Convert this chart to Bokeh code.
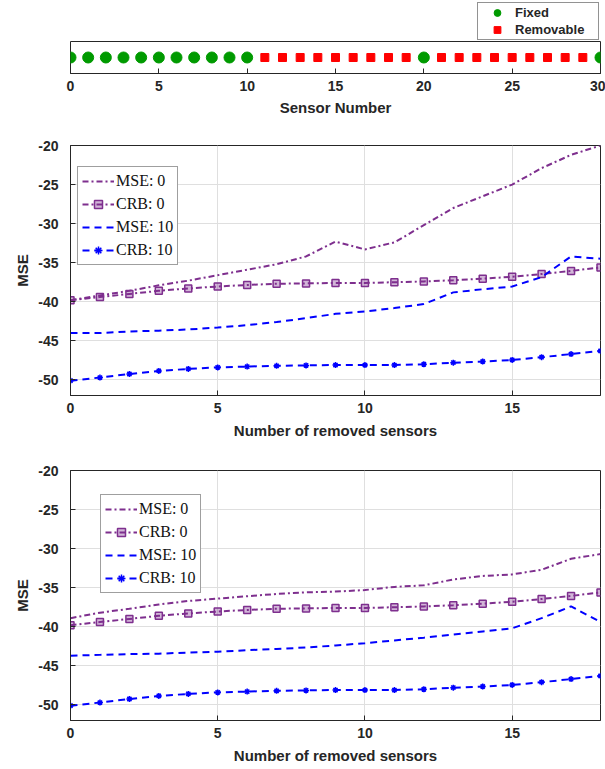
from bokeh.plotting import figure
from bokeh.models import Legend, LegendItem, FixedTicker, Range1d
from bokeh.layouts import column
from bokeh.embed import file_html
from bokeh.resources import INLINE

# ---------------- data ----------------
fixed_sensors = [0, 1, 2, 3, 4, 5, 6, 7, 8, 9, 10, 20, 30]
removable_sensors = [11, 12, 13, 14, 15, 16, 17, 18, 19,
                     21, 22, 23, 24, 25, 26, 27, 28, 29]
sensor_ticks = [0, 5, 10, 15, 20, 25, 30]
sensor_legend = ["Fixed", "Removable"]

removed = list(range(19))
removed_ticks = [0, 5, 10, 15]
mse_ticks = [-50, -45, -40, -35, -30, -25, -20]

mse0_top = [-39.8, -39.2, -38.6, -37.9, -37.3, -36.6, -35.9, -35.2, -34.2, -32.3,
            -33.3, -32.4, -30.2, -28.0, -26.5, -25.0, -22.9, -21.2, -20.0]
crb0_top = [-39.8, -39.4, -39.0, -38.6, -38.3, -38.05, -37.85, -37.7, -37.65, -37.6,
            -37.6, -37.5, -37.4, -37.25, -37.05, -36.8, -36.45, -36.05, -35.6]
mse10_top = [-44.0, -44.0, -43.8, -43.7, -43.55, -43.3, -43.0, -42.6, -42.1, -41.55,
             -41.25, -40.8, -40.3, -38.8, -38.4, -38.05, -36.85, -34.2, -34.5]
crb10_top = [-50.1, -49.7, -49.25, -48.85, -48.6, -48.4, -48.3, -48.2, -48.15, -48.1,
             -48.1, -48.1, -48.0, -47.8, -47.65, -47.45, -47.1, -46.7, -46.3]

mse0_bot = [-38.9, -38.2, -37.7, -37.15, -36.7, -36.4, -36.1, -35.8, -35.6, -35.5,
            -35.3, -34.9, -34.7, -33.95, -33.5, -33.3, -32.7, -31.3, -30.7]
crb0_bot = [-39.8, -39.4, -39.0, -38.6, -38.3, -38.05, -37.85, -37.7, -37.65, -37.6,
            -37.6, -37.5, -37.4, -37.25, -37.05, -36.8, -36.45, -36.05, -35.6]
mse10_bot = [-43.7, -43.6, -43.5, -43.45, -43.3, -43.2, -43.0, -42.85, -42.65, -42.4,
             -42.1, -41.75, -41.4, -41.0, -40.6, -40.2, -38.9, -37.4, -39.4]
crb10_bot = [-50.1, -49.7, -49.25, -48.85, -48.6, -48.4, -48.3, -48.2, -48.15, -48.1,
             -48.1, -48.1, -48.0, -47.8, -47.65, -47.45, -47.1, -46.7, -46.3]

legend_labels = ["MSE: 0", "CRB: 0", "MSE: 10", "CRB: 10"]

# ---------------- style ----------------
PURPLE = "#7E2F8E"
BLUE = "#0000FF"
GREEN = "#009A00"
RED = "#FF0000"
AX = "#262626"
GRID = "#dfdfdf"
SANS = "Liberation Sans"
SERIF = "Liberation Serif"
DASHDOT = "6 3 2 3"
DASH = "7 5"


def style_axis(ax, standoff, label_standoff):
    ax.axis_line_color = AX
    ax.major_tick_line_color = AX
    ax.major_tick_in = 5
    ax.major_tick_out = 0
    ax.minor_tick_in = 0
    ax.minor_tick_out = 0
    ax.major_label_text_font = SANS
    ax.major_label_text_font_style = "bold"
    ax.major_label_text_font_size = "14px"
    ax.major_label_text_color = AX
    ax.major_label_standoff = standoff
    ax.axis_label_text_font = SANS
    ax.axis_label_text_font_style = "bold"
    ax.axis_label_text_font_size = "15px"
    ax.axis_label_text_color = AX
    ax.axis_label_standoff = label_standoff


sensor_x = Range1d(0, 30)

# ---------------- legend strip for the sensor plot ----------------
# (the sensor markers are repeated here out of view so the legend can show them)
p0 = figure(frame_width=530, frame_height=41,
            min_border_left=69, min_border_right=6,
            min_border_top=0, min_border_bottom=0,
            x_range=sensor_x, y_range=Range1d(5, 6),
            output_backend="svg", toolbar_location=None)
p0.axis.visible = False
p0.grid.visible = False
p0.outline_line_color = None
k_fixed = p0.scatter(fixed_sensors, [0] * len(fixed_sensors), marker="circle",
                     size=11, fill_color=GREEN, line_color=GREEN)
k_rem = p0.scatter(removable_sensors, [0] * len(removable_sensors), marker="square",
                   size=8, fill_color=RED, line_color=RED)
leg0 = Legend(items=[LegendItem(label=sensor_legend[0], renderers=[k_fixed]),
                     LegendItem(label=sensor_legend[1], renderers=[k_rem])],
              location=(407, 1), orientation="vertical",
              label_text_font=SANS, label_text_font_style="bold",
              label_text_font_size="13px", label_text_color=AX,
              glyph_width=36, glyph_height=17, label_height=17, label_width=82,
              label_standoff=0, spacing=0, padding=1, margin=0,
              border_line_color=AX, border_line_width=1,
              background_fill_alpha=1)
p0.add_layout(leg0)

# ---------------- sensor strip ----------------
p1 = figure(frame_width=530, frame_height=32,
            min_border_left=69, min_border_right=6,
            min_border_top=0, min_border_bottom=47,
            x_range=sensor_x, y_range=Range1d(-1, 1),
            output_backend="svg", toolbar_location=None)
p1.yaxis.visible = False
p1.grid.visible = False
p1.outline_line_color = AX
p1.outline_line_alpha = 1
p1.xaxis.ticker = FixedTicker(ticks=sensor_ticks)
p1.xaxis.axis_label = "Sensor Number"
style_axis(p1.xaxis, 7, 5)

p1.scatter(fixed_sensors, [0] * len(fixed_sensors), marker="circle",
           size=11, fill_color=GREEN, line_color=GREEN)
p1.scatter(removable_sensors, [0] * len(removable_sensors), marker="square",
           size=8, fill_color=RED, line_color=RED)


# ---------------- MSE plots ----------------
def mse_plot(mse0, crb0, mse10, crb10, legend_loc, bottom_border, title_standoff):
    p = figure(frame_width=530, frame_height=250,
               min_border_left=70, min_border_right=5,
               min_border_top=25, min_border_bottom=bottom_border,
               x_range=Range1d(0, 18), y_range=Range1d(-52, -20),
               output_backend="svg", toolbar_location=None)
    p.outline_line_color = AX
    p.outline_line_alpha = 1
    p.xaxis.ticker = FixedTicker(ticks=removed_ticks)
    p.yaxis.ticker = FixedTicker(ticks=mse_ticks)
    p.yaxis.major_label_overrides = {t: str(t) for t in mse_ticks}
    p.xaxis.axis_label = "Number of removed sensors"
    p.yaxis.axis_label = "MSE"
    style_axis(p.xaxis, 7, title_standoff)
    style_axis(p.yaxis, 12, 4)
    p.grid.grid_line_color = GRID
    p.grid.grid_line_width = 1

    r1 = p.line(removed, mse0, line_color=PURPLE, line_width=2, line_dash=DASHDOT)
    r2 = p.line(removed, crb0, line_color=PURPLE, line_width=2, line_dash=DASHDOT)
    r2m = p.scatter(removed, crb0, marker="square", size=7, line_color=PURPLE,
                    line_width=1.5, fill_color=PURPLE, fill_alpha=0.35)
    r3 = p.line(removed, mse10, line_color=BLUE, line_width=2, line_dash=DASH)
    r4 = p.line(removed, crb10, line_color=BLUE, line_width=2, line_dash=DASH)
    r4m = p.scatter(removed, crb10, marker="asterisk", size=6, line_color=BLUE,
                    line_width=1.5)
    leg = Legend(items=[LegendItem(label=legend_labels[0], renderers=[r1]),
                        LegendItem(label=legend_labels[1], renderers=[r2, r2m]),
                        LegendItem(label=legend_labels[2], renderers=[r3]),
                        LegendItem(label=legend_labels[3], renderers=[r4, r4m])],
                 location=legend_loc, orientation="vertical",
                 label_text_font=SERIF, label_text_font_size="16px",
                 label_text_color="#111111",
                 glyph_width=32, glyph_height=20, label_height=20, label_width=56,
                 label_standoff=2, spacing=3, padding=4, margin=0,
                 border_line_color="#404040", border_line_width=1,
                 background_fill_alpha=1)
    p.add_layout(leg)
    return p


p2 = mse_plot(mse0_top, crb0_top, mse10_top, crb10_top, (7, 130), 50, 6)
p3 = mse_plot(mse0_bot, crb0_bot, mse10_bot, crb10_bot, (30, 127), 49, 6)

layout = column(p0, p1, p2, p3, spacing=0)
open("out.html", "w").write(file_html(layout, INLINE))
